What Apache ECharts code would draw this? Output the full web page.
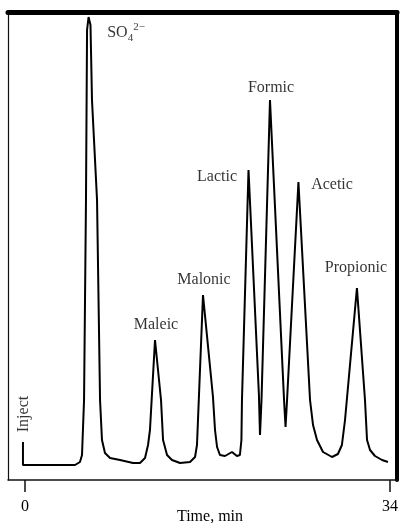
<!DOCTYPE html>
<html>
<head>
<meta charset="utf-8">
<script src="https://cdn.jsdelivr.net/npm/echarts@6/dist/echarts.min.js"></script>
<style>html,body{margin:0;padding:0;background:#fff}#c{width:401px;height:523px}</style>
</head>
<body>
<div id="c"></div>
<script>
// Chromatogram trace: time (min) and detector response (arbitrary units)
const traceTime = [-0.19,-0.19,4.66,5.12,5.31,5.50,5.68,5.78,5.92,6.10,6.24,6.71,6.99,7.17,7.45,7.92,8.85,10.06,10.71,11.18,11.46,11.64,12.11,12.67,12.86,13.23,13.69,14.44,15.37,15.84,16.02,16.58,17.51,17.70,17.89,18.16,18.63,19.28,19.74,20.02,20.16,20.21,20.82,21.79,21.89,22.03,22.82,24.13,24.27,24.41,25.47,26.55,26.83,27.20,27.76,28.60,29.15,29.52,29.81,30.92,31.67,31.86,32.14,32.60,33.26,33.81];
const traceSignal = [23,0,0,3,10,65,265,435,448,440,365,265,65,25,12,7,5,2,2,7,20,35,125,65,25,10,5,2,3,8,20,170,68,35,18,10,9,13,9,10,25,65,295,70,30,65,365,65,38,65,283,65,40,25,13,8,11,20,45,177,65,25,15,9,5,3];

// Peak annotations
const peakNames = ['SO4','Maleic','Malonic','Lactic','Formic','Acetic','Propionic','Inject'];
const peakLabelTime = [9.41,12.20,16.67,17.89,22.92,28.60,30.83,-0.09];
const peakLabelSignal = [432,140,185,288,377,280,197,51];

// Axis ticks
const tickValues = [0,34];
const xMin = -1.584, xMax = 34.652, yMin = -15, yMax = 453;

const line = traceTime.map((t,i)=>[t, traceSignal[i]]);
const labels = peakNames.map((n,i)=>({value:[peakLabelTime[i], peakLabelSignal[i], n],
  label: n==='Inject' ? {rotate:90} : {}}));

const FONT = 'Liberation Serif';
const chart = echarts.init(document.getElementById('c'));
chart.setOption({
  animation:false,
  backgroundColor:'#fff',
  grid:{left:8,right:4,top:12,bottom:43,outerBoundsMode:'none',containLabel:false},
  xAxis:[{
    type:'value', min:xMin, max:xMax, position:'bottom',
    splitLine:{show:false},
    axisLine:{show:true, onZero:false, lineStyle:{color:'#111', width:1.5}},
    axisTick:{show:true, inside:false, length:12, customValues:tickValues, lineStyle:{color:'#111', width:1.5}},
    axisLabel:{show:true, customValues:tickValues, margin:19, color:'#000', fontFamily:FONT, fontSize:16},
    name:'Time, min', nameLocation:'middle', nameGap:29, nameMoveOverlap:false,
    nameTextStyle:{color:'#000', fontFamily:FONT, fontSize:16, padding:[0,0,0,15]}
  },{
    type:'value', min:xMin, max:xMax, position:'top',
    splitLine:{show:false}, axisTick:{show:false}, axisLabel:{show:false},
    axisLine:{show:true, onZero:false, lineStyle:{color:'#000', width:5}}
  }],
  yAxis:[{
    type:'value', min:yMin, max:yMax, position:'left',
    splitLine:{show:false}, axisTick:{show:false}, axisLabel:{show:false},
    axisLine:{show:true, onZero:false, lineStyle:{color:'#111', width:1.2}}
  },{
    type:'value', min:yMin, max:yMax, position:'right',
    splitLine:{show:false}, axisTick:{show:false}, axisLabel:{show:false},
    axisLine:{show:true, onZero:false, lineStyle:{color:'#000', width:4}}
  }],
  series:[{
    type:'line', data:line, showSymbol:false, smooth:false,
    lineStyle:{color:'#000', width:2}, xAxisIndex:0, yAxisIndex:0, z:3
  },{
    type:'scatter', data:labels, symbolSize:0, xAxisIndex:0, yAxisIndex:0, silent:true,
    label:{show:true, position:'inside', color:'#000', fontFamily:FONT, fontSize:16,
      formatter:p=>p.data.value[2]==='SO4' ? '{b|SO}{s|4}{p|2−}' : p.data.value[2],
      rich:{
        b:{fontFamily:FONT, fontSize:16, color:'#000', lineHeight:22},
        s:{fontFamily:FONT, fontSize:11, color:'#000', verticalAlign:'bottom', lineHeight:22},
        p:{fontFamily:FONT, fontSize:11, color:'#000', verticalAlign:'top', lineHeight:22}
      }}
  }]
});
</script>
</body>
</html>
